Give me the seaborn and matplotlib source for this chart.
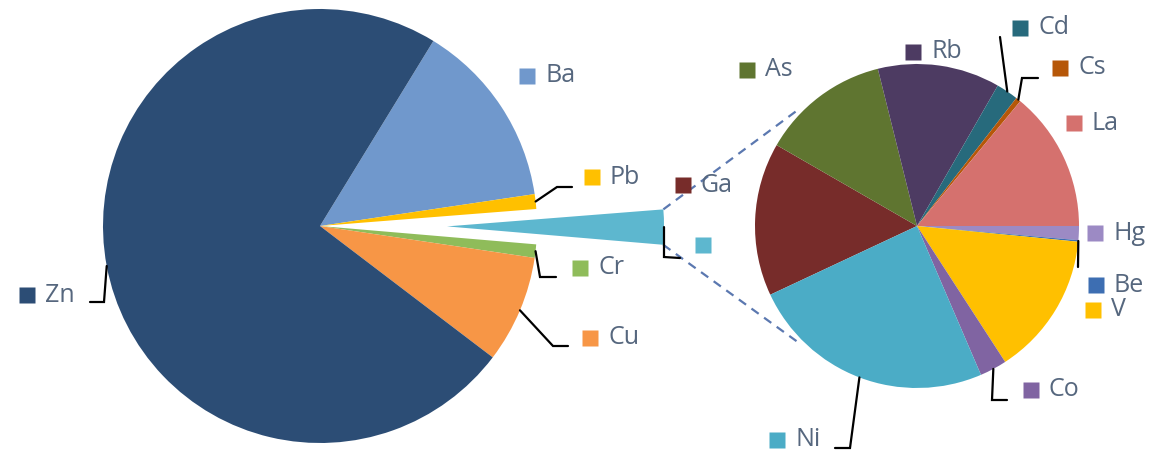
import numpy as np
import matplotlib
matplotlib.use("Agg")
import matplotlib.pyplot as plt
import seaborn as sns

# ── data (shares, %) ──────────────────────────────────
main_labels = ["Ba", "Pb", "", "Cr", "Cu", "Zn"]      # "" = grouped "other" slice
main_values = [13.9, 1.1, 2.6, 1.0, 8.0, 73.4]
main_colors = ["#7098CC", "#FFC000", "#5DB7CF", "#8FBC5A", "#F79646", "#2C4D75"]

sub_labels = ["Ga", "As", "Rb", "Cd", "Cs", "La", "Hg", "Be", "V", "Co", "Ni"]
sub_values = [15.3, 12.8, 12.2, 2.2, 0.5, 14.0, 1.4, 0.15, 14.3, 2.7, 24.5]
sub_colors = ["#772C2A", "#5F7530", "#4D3B62", "#276A7C", "#B65708", "#D5716E",
              "#9C8AC4", "#3D6EB2", "#FFC000", "#8064A2", "#4BACC6"]

# ── layout (pixel coords, y down) ─────────────────────
W, H = 1155, 455
MAIN_C, MAIN_R, MAIN_START = (320, 226), 217, 58.5
SUB_C, SUB_R, SUB_START = (917, 226), 162, 205.1
OTHER_EXPLODE = 127   # matplotlib explode is in data units here

# label square centres
label_pos = {
    "Ba": (527, 76), "Pb": (592, 177), "": (703, 245), "Cr": (580, 268),
    "Cu": (590, 338), "Zn": (27, 295),
    "Ga": (683, 185), "As": (747, 70), "Rb": (913, 52), "Cd": (1020, 28),
    "Cs": (1060, 68), "La": (1074, 123), "Hg": (1095, 233), "Be": (1096, 285),
    "V": (1093, 310), "Co": (1031, 390), "Ni": (777, 440),
}
# leader lines: points after the wedge edge
main_leaders = {
    "Pb": [(557, 187), (572, 187)],
    "": [(664, 257), (680, 258)],
    "Cr": [(540, 277), (556, 277)],
    "Cu": [(553, 346), (568, 346)],
    "Zn": [(104, 302), (90, 302)],
}
sub_leaders = {
    "Cd": [(1000, 37)],
    "Cs": [(1022, 78), (1038, 78)],
    "Be": [(1078, 267)],
    "Co": [(992, 400), (1007, 400)],
    "Ni": [(850, 448), (835, 448)],
}

TEXT_COLOR = "#56677E"


def P(x, y):
    return x, H - y


def edge_point(w):
    a = np.deg2rad((w.theta1 + w.theta2) / 2)
    return w.center[0] + w.r * np.cos(a), w.center[1] + w.r * np.sin(a)


sns.set_theme(style="white")
plt.rcParams["font.family"] = ["Open Sans", "DejaVu Sans"]

fig = plt.figure(figsize=(W / 100, H / 100), dpi=100)
ax = fig.add_axes([0, 0, 1, 1])

explode = [OTHER_EXPLODE if lab == "" else 0 for lab in main_labels]
main_wedges, _ = ax.pie(main_values, colors=main_colors, startangle=MAIN_START,
                        counterclock=False, center=P(*MAIN_C), radius=MAIN_R,
                        explode=explode, normalize=True,
                        wedgeprops=dict(linewidth=0, zorder=2))
sub_wedges, _ = ax.pie(sub_values, colors=sub_colors, startangle=SUB_START,
                       counterclock=False, center=P(*SUB_C), radius=SUB_R,
                       normalize=True, wedgeprops=dict(linewidth=0, zorder=2))

# dashed series lines from the "other" slice to the second pie
ow = main_wedges[main_labels.index("")]
sc = P(*SUB_C)
for th, tgt in [(ow.theta2, 135), (ow.theta1, 225)]:
    a, b = np.deg2rad(th), np.deg2rad(tgt)
    x0, y0 = ow.center[0] + ow.r * np.cos(a), ow.center[1] + ow.r * np.sin(a)
    x1, y1 = sc[0] + (SUB_R + 4) * np.cos(b), sc[1] + (SUB_R + 4) * np.sin(b)
    ax.plot([x0, x1], [y0, y1], ls=(0, (4, 3)), color="#5B78B0", lw=1.6, zorder=1)

# leader lines
for wedges, labels, leaders in [(main_wedges, main_labels, main_leaders),
                                (sub_wedges, sub_labels, sub_leaders)]:
    for w, lab in zip(wedges, labels):
        if lab not in leaders:
            continue
        pts = [edge_point(w)] + [P(*p) for p in leaders[lab]]
        xs, ys = zip(*pts)
        ax.plot(xs, ys, color="black", lw=1.6, zorder=3, solid_joinstyle="miter")

# legend-style labels
for labels, colors in [(main_labels, main_colors), (sub_labels, sub_colors)]:
    for lab, col in zip(labels, colors):
        x, y = P(*label_pos[lab])
        ax.plot(x, y, marker="s", ms=11, color=col, mec="none", zorder=4)
        if lab:
            ax.text(x + 18, y, lab, fontsize=18, color=TEXT_COLOR,
                    va="center", ha="left", zorder=4)

ax.set_xlim(0, W)
ax.set_ylim(0, H)
ax.set_aspect("equal")
ax.axis("off")

fig.savefig("out.png", dpi=100)
